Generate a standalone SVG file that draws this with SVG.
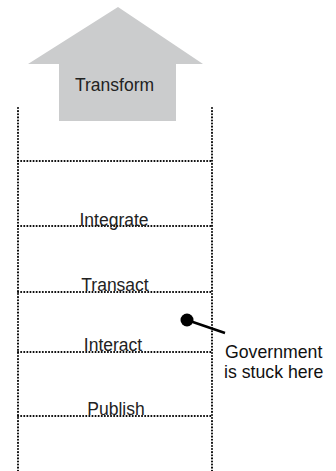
<svg xmlns="http://www.w3.org/2000/svg" width="336" height="471" viewBox="0 0 336 471">
<style>
.dot{stroke:#000;stroke-width:2;stroke-dasharray:0.1 3;stroke-linecap:round;fill:none}
.lbl{font-family:"Liberation Sans",Arial,sans-serif;font-size:17.5px;fill:#222;text-anchor:middle}
.note{font-family:"Liberation Sans",Arial,sans-serif;font-size:17.7px;fill:#111}
</style>
<rect width="336" height="471" fill="#fff"/>
<g id="ladder">
<line class="dot" x1="18" y1="108" x2="18" y2="471"/>
<line class="dot" x1="212" y1="108" x2="212" y2="471"/>
</g>
<g id="transform">
<polygon points="118,7 203,64 176,64 176,121 59,121 59,64 28,64" fill="#cbcccd"/>
<text class="lbl" x="114.5" y="90.5">Transform</text>
</g>
<g id="integrate">
<line class="dot" x1="18" y1="161" x2="212" y2="161"/>
<line class="dot" x1="18" y1="226" x2="212" y2="226"/>
<text class="lbl" x="114" y="226">Integrate</text>
</g>
<g id="transact">
<line class="dot" x1="18" y1="292" x2="212" y2="292"/>
<text class="lbl" x="115" y="291">Transact</text>
</g>
<g id="interact">
<line class="dot" x1="18" y1="352" x2="212" y2="352"/>
<text class="lbl" x="113" y="351">Interact</text>
</g>
<g id="publish">
<line class="dot" x1="18" y1="416" x2="212" y2="416"/>
<text class="lbl" x="116" y="415">Publish</text>
</g>
<g id="connectors">
<line x1="187" y1="320" x2="225" y2="333" stroke="#000" stroke-width="2.5"/>
<circle cx="187" cy="320" r="6.5" fill="#000"/>
</g>
<g id="government">
<text class="note" x="225" y="357.5">Government</text>
<text class="note" x="224" y="377.5">is stuck here</text>
</g>
</svg>
